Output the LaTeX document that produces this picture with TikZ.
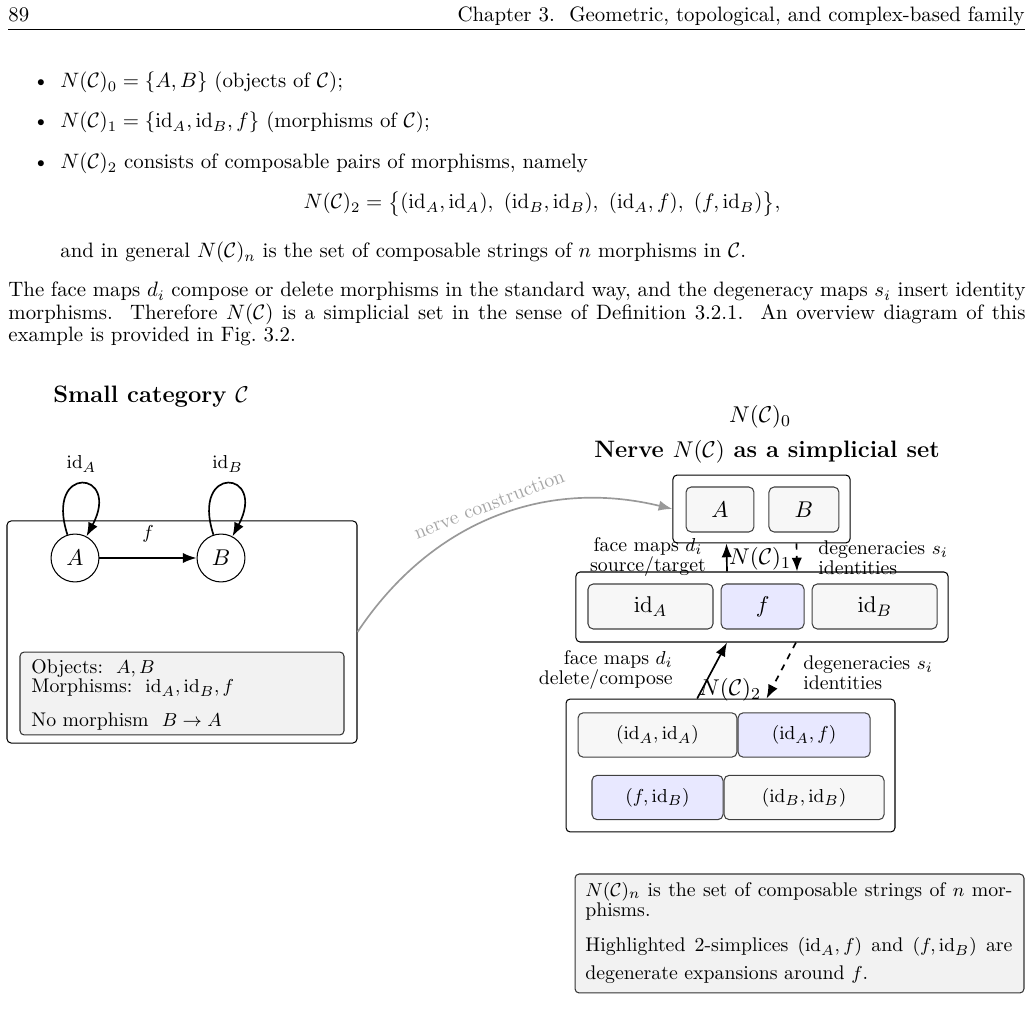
\documentclass[tikz,border=0pt]{standalone}
\usetikzlibrary{positioning,arrows.meta}
\newcommand\dgfont{\fontsize{9.5}{11}\selectfont}
\newcommand\dgbig{\fontsize{11.4}{13.5}\selectfont}
\begin{document}
\begin{tikzpicture}[x=0.48pt,y=-0.48pt,
  frame/.style={draw,rounded corners=2pt,line width=0.5pt,inner sep=0pt},
  cell/.style={draw=black!75,fill=black!3,rounded corners=2.5pt,line width=0.5pt,inner sep=0pt,minimum height=21.6pt,font=\dgbig},
  hcell/.style={cell,fill=blue!9},
  pcell/.style={cell,font=\dgfont,minimum height=21.3pt},
  obj/.style={circle,draw,line width=0.5pt,minimum size=23pt,inner sep=0pt,font=\dgbig},
  note/.style={draw=black!80,fill=black!5,rounded corners=2pt,line width=0.5pt},
  map/.style={thick,-{Latex}},
  lbl/.style={font=\fontsize{9.5}{9.6}\selectfont,inner sep=0pt},
  txt/.style={anchor=base west,inner sep=0pt},
  dtxt/.style={anchor=west,inner sep=0pt,font=\dgfont}]
\path[fill=white,use as bounding box] (0,0) rectangle (1031,1016);

\node[txt] (pg) at (8,22) {89};
\node[anchor=base east,inner sep=0pt] (hd) at (1025,22) {Chapter 3.\hspace{0.7em}Geometric, topological, and complex-based family};
\draw[line width=0.4pt] (8,29.5) -- (1025,29.5);

\node[anchor=base east,inner sep=0pt] (b1) at (49.6,88) {\textbullet};
\node[txt] (it1) at (60,88) {$N(\mathcal{C})_0=\{A,B\}$ (objects of $\mathcal{C}$);};
\node[anchor=base east,inner sep=0pt] (b2) at (49.6,128) {\textbullet};
\node[txt] (it2) at (60,128) {$N(\mathcal{C})_1=\{\mathrm{id}_A,\mathrm{id}_B,f\}$ (morphisms of $\mathcal{C}$);};
\node[anchor=base east,inner sep=0pt] (b3) at (49.6,169) {\textbullet};
\node[txt] (it3) at (60,169) {$N(\mathcal{C})_2$ consists of composable pairs of morphisms, namely};
\node[anchor=base,inner sep=0pt] (eq) at (542,209) {$\displaystyle N(\mathcal{C})_2=\bigl\{(\mathrm{id}_A,\mathrm{id}_A),\ (\mathrm{id}_B,\mathrm{id}_B),\ (\mathrm{id}_A,f),\ (f,\mathrm{id}_B)\bigr\},$};
\node[txt] (gen) at (60,258) {and in general $N(\mathcal{C})_n$ is the set of composable strings of $n$ morphisms in $\mathcal{C}$.};
\node[txt] (p1) at (8,297) {\makebox[488.2pt][s]{The face maps $d_i$ compose or delete morphisms in the standard way, and the degeneracy maps $s_i$ insert identity}};
\node[txt] (p2) at (8,319.5) {\makebox[488.2pt][s]{morphisms.\ \ Therefore $N(\mathcal{C})$ is a simplicial set in the sense of Definition 3.2.1.\ \ An overview diagram of this}};
\node[txt] (p3) at (8,342) {example is provided in Fig.~3.2.};

\node[anchor=west,font=\dgbig\bfseries] (tl) at (46,397) {Small category $\mathcal{C}$};
\node[frame,minimum width=168pt,minimum height=106.6pt] (cat) at (182,632) {};
\node[obj] (A) at (75,558) {$A$};
\node[obj] (B) at (221,558) {$B$};
\draw[map] (A) -- node[above=4pt,font=\dgfont] (lf) {$f$} (B);
\draw[map] (A) to[out=108,in=62,distance=36pt] node[above=2pt,font=\dgfont] (la) {$\mathrm{id}_A$} (A);
\draw[map] (B) to[out=108,in=62,distance=36pt] node[above=2pt,font=\dgfont] (lb) {$\mathrm{id}_B$} (B);
\node[note,minimum width=155.5pt,minimum height=39.8pt] (info) at (182,693.5) {};
\node[dtxt] (i1) at (31,669) {Objects:\ \ $A,B$};
\node[dtxt] (i2) at (31,688) {Morphisms:\ \ $\mathrm{id}_A,\mathrm{id}_B,f$};
\node[dtxt] (i3) at (31,722) {No morphism\ \ $B\to A$};

\node[font=\dgbig] (t0) at (760,417) {$N(\mathcal{C})_0$};
\node[font=\dgbig\bfseries] (tr) at (767,452) {Nerve $N(\mathcal{C})$ as a simplicial set};
\node[frame,minimum width=85pt,minimum height=32.6pt] (n0) at (761.5,509) {};
\node[cell,minimum width=32.6pt] (ca) at (720,509.5) {$A$};
\node[cell,minimum width=33.6pt,right=6.7pt of ca] (cb) {$B$};

\node[frame,minimum width=178.6pt,minimum height=33.6pt] (n1) at (762,607) {};
\node[cell,minimum width=60pt] (cida) at (650.5,606.5) {$\mathrm{id}_A$};
\node[hcell,minimum width=39.8pt,right=3.4pt of cida] (cf) {$f$};
\node[cell,minimum width=60pt,right=3.4pt of cf] (cidb) {$\mathrm{id}_B$};
\node[font=\dgbig] (t1) at (760,559) {$N(\mathcal{C})_1$};

\node[frame,minimum width=157.9pt,minimum height=63.8pt] (n2) at (730.5,765.5) {};
\node[pcell,minimum width=76.3pt] (paa) at (657.5,735) {$(\mathrm{id}_A,\mathrm{id}_A)$};
\node[pcell,fill=blue!9,minimum width=63.4pt,right=0pt of paa] (paf) {$(\mathrm{id}_A,f)$};
\node[pcell,fill=blue!9,minimum width=62.9pt] (pfb) at (657.5,797.5) {$(f,\mathrm{id}_B)$};
\node[pcell,minimum width=76.8pt,right=0pt of pfb] (pbb) {$(\mathrm{id}_B,\mathrm{id}_B)$};
\node[font=\dgbig] (t2) at (730,690) {$N(\mathcal{C})_2$};

\draw[map] ([xshift=-16.8pt]n1.north) -- ([xshift=-16.8pt]n0.south);
\draw[map,dashed] ([xshift=16.8pt]n0.south) -- ([xshift=16.8pt]n1.north);
\draw[map] ([xshift=-16pt]n2.north) -- ([xshift=-16.8pt]n1.south);
\draw[map,dashed] ([xshift=16.3pt]n1.south) -- ([xshift=17.3pt]n2.north);
\node[lbl,align=center] (fu) at (648,557) {face maps $d_i$\\source/target};
\node[lbl,align=left,anchor=west] (du) at (818,558) {degeneracies $s_i$\\identities};
\node[lbl,align=right,anchor=east] (fd) at (673,670) {face maps $d_i$\\delete/compose};
\node[lbl,align=left,anchor=west] (dd) at (803,673) {degeneracies $s_i$\\identities};

\draw[black!40,thick,-{Latex}] (cat.east) to[bend left=35] node[midway,sloped,above,text=black!35,font=\dgfont] (nc) {nerve construction} (n0.west);

\node[note,minimum width=215.5pt,minimum height=57.1pt] (nb) at (799.5,933.5) {};
\node[dtxt] (m1) at (585,892) {\makebox[205pt][s]{$N(\mathcal{C})_n$ is the set of composable strings of $n$ mor-}};
\node[dtxt] (m2) at (585,912) {phisms.};
\node[dtxt] (m3) at (585,947) {\makebox[205pt][s]{Highlighted 2-simplices $(\mathrm{id}_A,f)$ and $(f,\mathrm{id}_B)$ are}};
\node[dtxt] (m4) at (585,975) {degenerate expansions around $f$.};
\end{tikzpicture}
\end{document}
